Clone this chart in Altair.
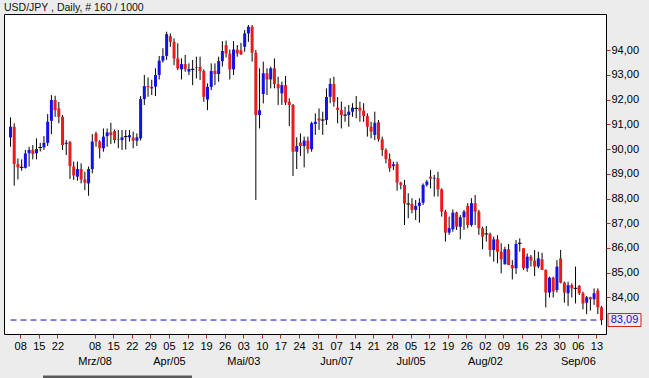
import altair as alt
import pandas as pd

# ---- data (USD/JPY daily, 160 candles) ----
opens = [90.47, 90.90, 89.39, 89.26, 89.24, 89.83, 89.96, 89.83, 90.06, 90.07,
         90.25, 91.14, 91.98, 91.64, 91.30, 90.20, 90.28, 89.29, 88.88, 89.19,
         88.77, 88.61, 89.19, 90.63, 90.30, 90.03, 90.52, 90.68, 90.73, 90.40,
         90.36, 90.50, 90.47, 90.46, 90.34, 90.43, 92.02, 92.54, 92.45, 92.52,
         92.99, 93.57, 93.76, 94.56, 94.33, 93.66, 93.22, 93.43, 93.13, 93.22,
         93.28, 93.32, 93.15, 92.00, 92.51, 93.16, 93.03, 93.55, 94.20, 93.86,
         93.22, 94.02, 93.99, 94.13, 94.67, 94.94, 93.89, 91.37, 92.22, 93.06,
         92.81, 93.26, 92.62, 92.25, 92.58, 91.91, 91.78, 89.89, 90.26, 90.12,
         90.34, 89.99, 91.01, 91.24, 91.17, 91.17, 92.11, 92.63, 91.67, 91.58,
         91.37, 91.37, 91.51, 91.64, 91.67, 91.55, 91.33, 90.90, 90.57, 91.08,
         90.39, 89.96, 89.60, 89.31, 89.39, 88.64, 88.55, 87.78, 87.78, 87.54,
         87.70, 87.83, 88.55, 88.88, 88.81, 88.82, 88.37, 87.47, 86.62, 86.76,
         87.43, 86.86, 87.24, 87.70, 86.93, 87.81, 87.47, 86.80, 86.57, 86.57,
         85.92, 86.35, 85.85, 85.34, 85.95, 85.31, 85.18, 86.19, 85.99, 85.18,
         85.65, 85.49, 85.25, 85.54, 85.11, 84.20, 84.80, 84.30, 85.58, 84.60,
         84.17, 84.50, 84.37, 84.47, 84.17, 83.79, 84.01, 83.93, 84.28, 83.60]
highs = [91.28, 91.04, 89.62, 89.58, 89.96, 90.09, 90.16, 90.43, 90.25, 90.52,
         91.41, 92.18, 92.15, 91.90, 91.37, 90.36, 90.33, 89.49, 89.49, 89.42,
         89.08, 89.29, 90.60, 90.70, 90.36, 90.83, 90.83, 91.06, 90.79, 90.77,
         90.77, 90.77, 90.77, 90.70, 90.63, 92.14, 92.99, 92.89, 92.80, 93.26,
         93.76, 94.07, 94.74, 94.67, 94.47, 94.27, 93.66, 93.80, 93.46, 93.60,
         93.73, 93.73, 93.22, 92.65, 93.46, 93.46, 93.73, 94.36, 94.38, 94.02,
         94.36, 94.20, 94.29, 94.81, 95.01, 95.01, 94.00, 93.26, 93.53, 93.26,
         93.33, 93.66, 92.92, 92.72, 92.95, 92.05, 91.82, 90.47, 90.63, 90.50,
         90.50, 91.10, 91.44, 91.64, 91.51, 92.45, 92.86, 92.92, 92.10, 91.91,
         91.71, 91.78, 91.85, 92.14, 91.91, 91.85, 91.44, 91.10, 91.51, 91.17,
         90.50, 90.03, 89.82, 89.49, 89.49, 88.68, 88.75, 88.21, 88.01, 87.94,
         88.01, 88.61, 88.75, 89.15, 88.95, 89.08, 88.41, 87.54, 87.27, 87.56,
         87.47, 87.33, 87.54, 87.81, 88.01, 88.14, 87.54, 86.86, 86.89, 86.62,
         86.46, 86.52, 86.19, 86.05, 86.16, 85.51, 86.32, 86.39, 85.99, 85.78,
         85.72, 85.92, 85.85, 85.81, 85.14, 84.84, 84.84, 85.51, 85.92, 84.64,
         84.64, 84.57, 85.25, 84.50, 84.24, 84.06, 84.03, 84.37, 84.37, 83.66]
lows = [90.09, 88.52, 88.77, 89.12, 89.21, 89.29, 89.58, 89.58, 89.90, 89.96,
        90.12, 90.60, 91.30, 91.04, 89.96, 89.76, 88.79, 88.75, 88.72, 88.61,
        88.34, 88.11, 89.02, 90.09, 89.62, 89.89, 90.09, 90.20, 90.23, 90.03,
        89.96, 89.98, 90.30, 90.03, 90.12, 90.34, 91.78, 92.11, 92.18, 92.14,
        92.81, 93.49, 93.60, 94.13, 93.39, 93.19, 92.81, 93.12, 92.99, 92.58,
        92.85, 92.79, 91.91, 91.57, 92.38, 92.58, 92.72, 93.33, 93.70, 92.81,
        92.99, 93.73, 93.80, 93.93, 94.33, 93.53, 87.94, 90.83, 91.84, 92.18,
        92.45, 92.45, 91.78, 91.78, 91.78, 90.93, 88.91, 89.19, 89.72, 89.26,
        89.82, 89.89, 90.57, 90.77, 90.57, 90.97, 91.85, 91.71, 91.04, 90.83,
        91.10, 90.90, 91.30, 91.24, 91.10, 91.10, 90.50, 90.43, 90.36, 90.30,
        89.72, 89.42, 89.08, 89.15, 88.32, 88.37, 86.93, 87.20, 87.40, 87.13,
        87.02, 87.74, 88.48, 88.41, 88.08, 88.08, 87.27, 86.26, 86.53, 86.66,
        86.73, 86.35, 86.73, 86.80, 86.86, 86.93, 86.53, 85.95, 86.26, 85.65,
        85.45, 85.38, 84.98, 85.34, 85.31, 84.73, 84.95, 85.85, 85.11, 85.04,
        85.25, 84.87, 85.18, 85.11, 83.60, 84.00, 84.00, 84.20, 84.57, 83.79,
        83.66, 84.00, 83.76, 84.10, 83.52, 83.33, 83.47, 83.70, 83.33, 82.89]
closes = [90.90, 89.39, 89.26, 89.26, 89.82, 89.96, 89.80, 90.00, 90.06, 90.25,
          91.10, 91.98, 91.57, 91.30, 90.16, 90.25, 89.31, 88.93, 89.19, 88.77,
          88.64, 89.19, 90.30, 90.30, 90.03, 90.50, 90.67, 90.56, 90.36, 90.38,
          90.47, 90.50, 90.56, 90.34, 90.47, 92.02, 92.54, 92.50, 92.50, 92.99,
          93.57, 93.76, 94.64, 94.33, 93.66, 93.26, 93.43, 93.22, 93.23, 93.22,
          93.30, 93.15, 92.11, 92.51, 93.15, 93.03, 93.55, 93.96, 93.86, 93.22,
          94.02, 93.86, 93.82, 94.67, 94.94, 93.89, 91.37, 91.57, 93.06, 92.81,
          93.26, 92.62, 92.45, 92.58, 91.88, 91.78, 89.89, 90.12, 90.12, 90.34,
          89.99, 91.04, 91.10, 91.15, 91.17, 92.10, 92.63, 91.91, 91.58, 91.37,
          91.37, 91.51, 91.67, 91.64, 91.55, 91.33, 90.90, 90.70, 91.06, 90.39,
          89.96, 89.60, 89.22, 89.38, 88.64, 88.55, 87.80, 87.78, 87.54, 87.70,
          87.83, 88.55, 88.68, 88.81, 88.84, 88.37, 87.47, 86.62, 86.80, 87.43,
          86.86, 87.24, 87.47, 86.93, 87.81, 87.47, 86.80, 86.46, 86.57, 85.92,
          86.35, 85.85, 85.54, 85.95, 85.31, 85.18, 86.16, 86.19, 85.18, 85.65,
          85.49, 85.25, 85.58, 85.11, 84.20, 84.80, 84.24, 85.25, 84.60, 84.20,
          84.50, 84.37, 84.37, 84.17, 83.76, 84.01, 83.93, 84.17, 83.60, 83.09]

# week ticks (candle index of each Monday) and their labels
tick_index = [3, 8, 13, 23, 28, 33, 38, 43, 48, 53, 58, 63, 68, 73, 78, 83, 88,
              93, 98, 103, 108, 113, 118, 123, 128, 133, 138, 143, 148, 153, 158]
tick_day = ['08', '15', '22', '08', '15', '22', '29', '05', '12', '19', '26',
            '03', '10', '17', '24', '31', '07', '14', '21', '28', '05', '12',
            '19', '26', '02', '09', '16', '23', '30', '06', '13']
tick_month = ['', '', '', 'Mrz/08', '', '', '', 'Apr/05', '', '', '',
              'Mai/03', '', '', '', '', 'Jun/07', '', '', '', 'Jul/05', '',
              '', '', 'Aug/02', '', '', '', '', 'Sep/06', '']
y_ticks = [84, 85, 86, 87, 88, 89, 90, 91, 92, 93, 94]
title_text = "USD/JPY , Daily, # 160 / 1000"

n = len(closes)
df = pd.DataFrame({
    "i": list(range(n)),
    "open": opens, "high": highs, "low": lows, "close": closes,
})
df["dir"] = ["up" if c > o else "down" for o, c in zip(opens, closes)]

# label lookup expression
entries = ["''"] * n
for idx, d, m in zip(tick_index, tick_day, tick_month):
    entries[idx] = f"['{d}','{m}']" if m else f"'{d}'"
label_expr = "[" + ",".join(entries) + "][round(datum.value)]"

W, H = 602, 320
xscale = alt.Scale(domain=[-1.75, 160.2], nice=False, zero=False, padding=0)
yscale = alt.Scale(domain=[82.525, 95.455], nice=False, zero=False, padding=0)
FONT = "Liberation Sans"
TICK = "#A83232"

x_axis = alt.Axis(values=[i - 0.38 for i in tick_index], labelExpr=label_expr,
                  title=None, grid=False, domain=False, tickSize=4,
                  tickColor=TICK, labelPadding=2, labelLineHeight=15,
                  labelFont=FONT, labelFontSize=11, labelColor="black",
                  labelOverlap=False, labelFlush=False, labelBound=False)
y_axis = alt.Axis(orient="right", values=y_ticks,
                  labelExpr="replace(format(datum.value, '.2f'), '.', ',')",
                  title=None, grid=False, domain=False, tickSize=4,
                  tickColor=TICK, labelPadding=1, labelFont=FONT,
                  labelFontSize=11, labelColor="black", labelOverlap=False)

base = alt.Chart(df)

wicks = base.mark_rule(color="black", strokeWidth=1).encode(
    x=alt.X("i:Q", scale=xscale, axis=x_axis),
    y=alt.Y("low:Q", scale=yscale, axis=y_axis),
    y2="high:Q",
)

bodies = base.transform_filter("datum.open != datum.close").mark_bar(width=3).encode(
    x=alt.X("i:Q", scale=xscale, axis=x_axis),
    y=alt.Y("open:Q", scale=yscale, axis=y_axis),
    y2="close:Q",
    color=alt.Color("dir:N", scale=alt.Scale(domain=["up", "down"],
                                             range=["#1212E8", "#E81C1C"]),
                    legend=None),
)

dojis = base.transform_filter("datum.open == datum.close").transform_calculate(
    xl="datum.i - 0.5", xr="datum.i + 0.5"
).mark_rule(color="black", strokeWidth=1).encode(
    x=alt.X("xl:Q", scale=xscale, axis=x_axis), x2="xr:Q",
    y=alt.Y("close:Q", scale=yscale, axis=y_axis),
)

last_df = pd.DataFrame({"x0": [0], "x1": [n - 1], "y": [closes[-1]],
                        "label": [f"{closes[-1]:.2f}".replace(".", ",")]})
last_line = alt.Chart(last_df).mark_rule(color="#0A0ACC", strokeWidth=1,
                                         strokeDash=[6, 4]).encode(
    x=alt.X("x0:Q", scale=xscale, axis=x_axis), x2="x1:Q",
    y=alt.Y("y:Q", scale=yscale, axis=y_axis),
)
last_box = alt.Chart(last_df).mark_point(
    shape="M-1,-0.394H1V0.394H-1Z", size=1089, filled=False,
    stroke="#D81E1E", strokeWidth=1, opacity=1,
).encode(x=alt.value(620.5), y=alt.Y("y:Q", scale=yscale, axis=y_axis))
last_text = alt.Chart(last_df).mark_text(
    font=FONT, fontSize=11, color="#1010D0", align="center", baseline="middle",
).encode(x=alt.value(620.5), y=alt.Y("y:Q", scale=yscale, axis=y_axis),
         text="label:N")

title_df = pd.DataFrame({"t": [title_text]})
title = alt.Chart(title_df).mark_text(
    font=FONT, fontSize=10.5, color="#111111", align="left", baseline="alphabetic",
).encode(x=alt.value(0), y=alt.value(-3.5), text="t:N")

# window scrollbar strip at the bottom edge
scroll = alt.Chart(title_df).mark_rect(color="#5A5A5A").encode(
    x=alt.value(39), x2=alt.value(188), y=alt.value(361.5), y2=alt.value(364),
)

chart = alt.layer(wicks, bodies, dojis, last_line, last_box, last_text, title,
                  scroll).properties(
    width=W, height=H,
    background="#ECECEC",
    autosize=alt.AutoSizeParams(type="none"),
    padding={"left": 4, "top": 14, "right": 43, "bottom": 44},
).configure_view(stroke="black", strokeWidth=1, fill="white"
).configure_axis(labelOverlap=False)

chart.save("out.html", embed_options={"renderer": "svg", "actions": False})
